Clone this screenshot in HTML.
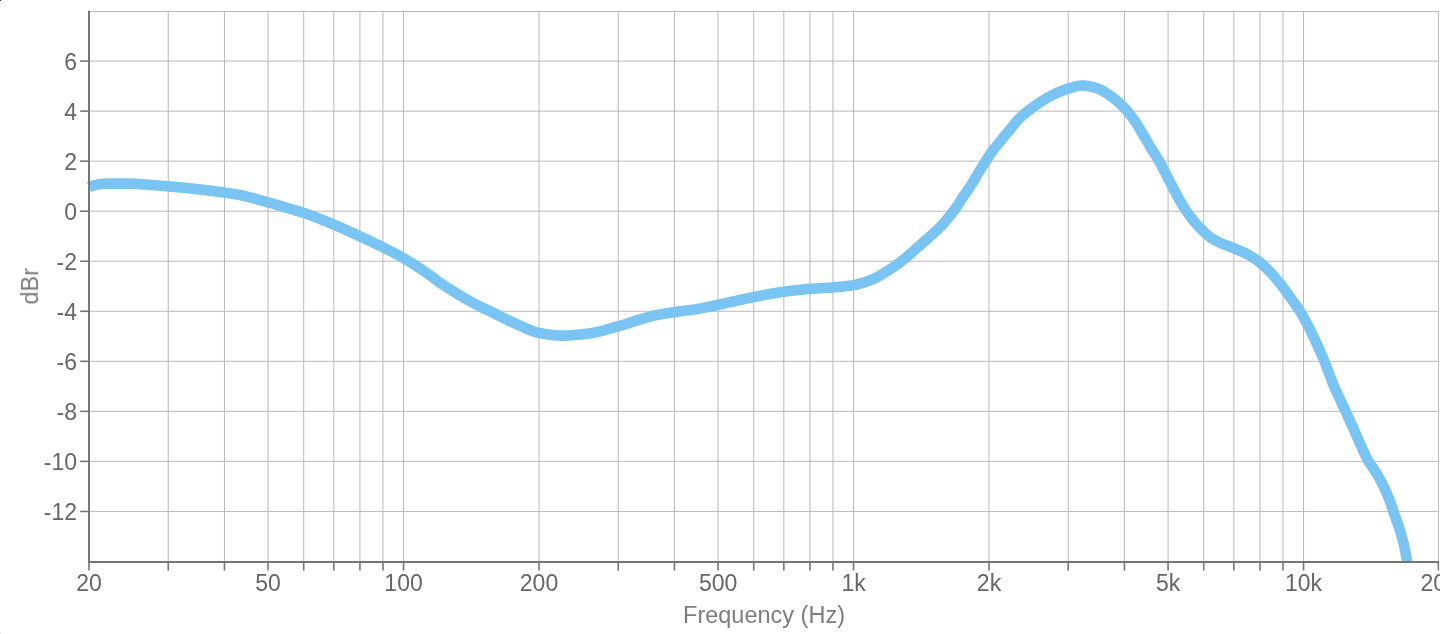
<!DOCTYPE html>
<html><head><meta charset="utf-8"><title>Frequency response</title>
<style>
html,body{margin:0;padding:0;background:#fff;}
body{width:1456px;height:634px;overflow:hidden;font-family:"Liberation Sans",sans-serif;}
svg{display:block;font-family:"Liberation Sans",sans-serif;}
.tl{font-size:23px;fill:#666;}
.ti{font-size:23.5px;fill:#7d7d7d;}
</style></head><body>
<svg width="1456" height="634" viewBox="0 0 1456 634">
<defs><clipPath id="pc"><rect x="80" y="11" width="1359.5" height="551.8"/></clipPath>
<clipPath id="sc"><rect x="0" y="0" width="1439.3" height="634"/></clipPath></defs>
<rect x="0" y="0" width="1456" height="634" fill="#fff"/>
<g clip-path="url(#sc)">
<g stroke="#b9b9b9" stroke-width="1" fill="none">
<line x1="168.24" y1="11.5" x2="168.24" y2="562.0"/>
<line x1="224.46" y1="11.5" x2="224.46" y2="562.0"/>
<line x1="268.07" y1="11.5" x2="268.07" y2="562.0"/>
<line x1="303.70" y1="11.5" x2="303.70" y2="562.0"/>
<line x1="333.83" y1="11.5" x2="333.83" y2="562.0"/>
<line x1="359.93" y1="11.5" x2="359.93" y2="562.0"/>
<line x1="382.95" y1="11.5" x2="382.95" y2="562.0"/>
<line x1="403.54" y1="11.5" x2="403.54" y2="562.0"/>
<line x1="539.00" y1="11.5" x2="539.00" y2="562.0"/>
<line x1="618.24" y1="11.5" x2="618.24" y2="562.0"/>
<line x1="674.46" y1="11.5" x2="674.46" y2="562.0"/>
<line x1="718.07" y1="11.5" x2="718.07" y2="562.0"/>
<line x1="753.70" y1="11.5" x2="753.70" y2="562.0"/>
<line x1="783.83" y1="11.5" x2="783.83" y2="562.0"/>
<line x1="809.93" y1="11.5" x2="809.93" y2="562.0"/>
<line x1="832.95" y1="11.5" x2="832.95" y2="562.0"/>
<line x1="853.54" y1="11.5" x2="853.54" y2="562.0"/>
<line x1="989.00" y1="11.5" x2="989.00" y2="562.0"/>
<line x1="1068.24" y1="11.5" x2="1068.24" y2="562.0"/>
<line x1="1124.46" y1="11.5" x2="1124.46" y2="562.0"/>
<line x1="1168.07" y1="11.5" x2="1168.07" y2="562.0"/>
<line x1="1203.70" y1="11.5" x2="1203.70" y2="562.0"/>
<line x1="1233.83" y1="11.5" x2="1233.83" y2="562.0"/>
<line x1="1259.93" y1="11.5" x2="1259.93" y2="562.0"/>
<line x1="1282.95" y1="11.5" x2="1282.95" y2="562.0"/>
<line x1="1303.54" y1="11.5" x2="1303.54" y2="562.0"/>
<line x1="89.0" y1="511.44" x2="1439" y2="511.44"/>
<line x1="89.0" y1="461.40" x2="1439" y2="461.40"/>
<line x1="89.0" y1="411.36" x2="1439" y2="411.36"/>
<line x1="89.0" y1="361.32" x2="1439" y2="361.32"/>
<line x1="89.0" y1="311.28" x2="1439" y2="311.28"/>
<line x1="89.0" y1="261.24" x2="1439" y2="261.24"/>
<line x1="89.0" y1="211.20" x2="1439" y2="211.20"/>
<line x1="89.0" y1="161.16" x2="1439" y2="161.16"/>
<line x1="89.0" y1="111.12" x2="1439" y2="111.12"/>
<line x1="89.0" y1="61.08" x2="1439" y2="61.08"/>
<line x1="89.0" y1="11.5" x2="1439" y2="11.5"/>
<line x1="1438.6" y1="11.5" x2="1438.6" y2="562.0"/>
</g>
<g clip-path="url(#pc)"><path d="M89.0,187.20 L90.0,186.78 L91.0,186.39 L92.0,186.03 L93.0,185.70 L94.0,185.39 L95.0,185.10 L96.0,184.83 L97.0,184.59 L98.0,184.40 L99.0,184.24 L100.0,184.10 L101.0,183.98 L102.0,183.87 L103.0,183.80 L104.0,183.74 L105.0,183.69 L106.0,183.64 L107.0,183.61 L108.0,183.60 L109.0,183.60 L110.0,183.60 L111.0,183.60 L112.0,183.60 L113.0,183.60 L114.0,183.60 L115.0,183.60 L116.0,183.60 L117.0,183.60 L118.0,183.60 L119.0,183.60 L120.0,183.60 L121.0,183.60 L122.0,183.60 L123.0,183.60 L124.0,183.60 L125.0,183.60 L126.0,183.60 L127.0,183.60 L128.0,183.60 L129.0,183.60 L130.0,183.60 L131.0,183.61 L132.0,183.64 L133.0,183.68 L134.0,183.73 L135.0,183.79 L136.0,183.86 L137.0,183.94 L138.0,184.01 L139.0,184.09 L140.0,184.16 L141.0,184.23 L142.0,184.29 L143.0,184.36 L144.0,184.43 L145.0,184.50 L146.0,184.57 L147.0,184.64 L148.0,184.71 L149.0,184.79 L150.0,184.86 L151.0,184.94 L152.0,185.02 L153.0,185.10 L154.0,185.18 L155.0,185.26 L156.0,185.34 L157.0,185.42 L158.0,185.50 L159.0,185.59 L160.0,185.67 L161.0,185.75 L162.0,185.84 L163.0,185.92 L164.0,186.01 L165.0,186.09 L166.0,186.18 L167.0,186.26 L168.0,186.35 L169.0,186.43 L170.0,186.52 L171.0,186.61 L172.0,186.69 L173.0,186.78 L174.0,186.87 L175.0,186.96 L176.0,187.04 L177.0,187.13 L178.0,187.22 L179.0,187.31 L180.0,187.40 L181.0,187.50 L182.0,187.59 L183.0,187.68 L184.0,187.78 L185.0,187.87 L186.0,187.97 L187.0,188.06 L188.0,188.16 L189.0,188.26 L190.0,188.36 L191.0,188.46 L192.0,188.56 L193.0,188.67 L194.0,188.77 L195.0,188.88 L196.0,188.99 L197.0,189.10 L198.0,189.21 L199.0,189.32 L200.0,189.43 L201.0,189.54 L202.0,189.66 L203.0,189.77 L204.0,189.89 L205.0,190.01 L206.0,190.13 L207.0,190.25 L208.0,190.38 L209.0,190.50 L210.0,190.62 L211.0,190.75 L212.0,190.88 L213.0,191.01 L214.0,191.14 L215.0,191.27 L216.0,191.40 L217.0,191.53 L218.0,191.67 L219.0,191.80 L220.0,191.94 L221.0,192.08 L222.0,192.22 L223.0,192.36 L224.0,192.50 L225.0,192.64 L226.0,192.79 L227.0,192.93 L228.0,193.08 L229.0,193.23 L230.0,193.38 L231.0,193.53 L232.0,193.68 L233.0,193.84 L234.0,194.01 L235.0,194.18 L236.0,194.35 L237.0,194.53 L238.0,194.71 L239.0,194.90 L240.0,195.10 L241.0,195.30 L242.0,195.51 L243.0,195.73 L244.0,195.95 L245.0,196.18 L246.0,196.41 L247.0,196.65 L248.0,196.90 L249.0,197.15 L250.0,197.40 L251.0,197.66 L252.0,197.92 L253.0,198.18 L254.0,198.45 L255.0,198.72 L256.0,198.99 L257.0,199.27 L258.0,199.54 L259.0,199.82 L260.0,200.10 L261.0,200.38 L262.0,200.66 L263.0,200.94 L264.0,201.22 L265.0,201.50 L266.0,201.78 L267.0,202.05 L268.0,202.33 L269.0,202.60 L270.0,202.88 L271.0,203.17 L272.0,203.45 L273.0,203.74 L274.0,204.03 L275.0,204.32 L276.0,204.61 L277.0,204.91 L278.0,205.20 L279.0,205.50 L280.0,205.80 L281.0,206.10 L282.0,206.40 L283.0,206.70 L284.0,207.00 L285.0,207.30 L286.0,207.60 L287.0,207.90 L288.0,208.20 L289.0,208.50 L290.0,208.80 L291.0,209.10 L292.0,209.39 L293.0,209.68 L294.0,209.97 L295.0,210.26 L296.0,210.56 L297.0,210.85 L298.0,211.15 L299.0,211.45 L300.0,211.75 L301.0,212.06 L302.0,212.38 L303.0,212.70 L304.0,213.03 L305.0,213.37 L306.0,213.71 L307.0,214.06 L308.0,214.41 L309.0,214.77 L310.0,215.13 L311.0,215.49 L312.0,215.86 L313.0,216.23 L314.0,216.61 L315.0,216.98 L316.0,217.37 L317.0,217.75 L318.0,218.14 L319.0,218.53 L320.0,218.92 L321.0,219.32 L322.0,219.72 L323.0,220.12 L324.0,220.52 L325.0,220.93 L326.0,221.33 L327.0,221.74 L328.0,222.15 L329.0,222.57 L330.0,222.98 L331.0,223.39 L332.0,223.81 L333.0,224.22 L334.0,224.64 L335.0,225.06 L336.0,225.49 L337.0,225.91 L338.0,226.35 L339.0,226.78 L340.0,227.22 L341.0,227.66 L342.0,228.11 L343.0,228.56 L344.0,229.01 L345.0,229.46 L346.0,229.91 L347.0,230.37 L348.0,230.83 L349.0,231.29 L350.0,231.75 L351.0,232.21 L352.0,232.68 L353.0,233.14 L354.0,233.61 L355.0,234.07 L356.0,234.54 L357.0,235.01 L358.0,235.47 L359.0,235.94 L360.0,236.40 L361.0,236.86 L362.0,237.33 L363.0,237.79 L364.0,238.26 L365.0,238.72 L366.0,239.19 L367.0,239.65 L368.0,240.12 L369.0,240.59 L370.0,241.06 L371.0,241.53 L372.0,242.00 L373.0,242.48 L374.0,242.96 L375.0,243.43 L376.0,243.91 L377.0,244.40 L378.0,244.88 L379.0,245.37 L380.0,245.86 L381.0,246.35 L382.0,246.85 L383.0,247.35 L384.0,247.85 L385.0,248.35 L386.0,248.85 L387.0,249.36 L388.0,249.86 L389.0,250.37 L390.0,250.88 L391.0,251.39 L392.0,251.90 L393.0,252.42 L394.0,252.94 L395.0,253.47 L396.0,254.00 L397.0,254.53 L398.0,255.07 L399.0,255.62 L400.0,256.17 L401.0,256.72 L402.0,257.29 L403.0,257.86 L404.0,258.43 L405.0,259.02 L406.0,259.61 L407.0,260.20 L408.0,260.81 L409.0,261.42 L410.0,262.04 L411.0,262.66 L412.0,263.29 L413.0,263.93 L414.0,264.56 L415.0,265.21 L416.0,265.86 L417.0,266.51 L418.0,267.17 L419.0,267.83 L420.0,268.49 L421.0,269.16 L422.0,269.83 L423.0,270.50 L424.0,271.17 L425.0,271.85 L426.0,272.53 L427.0,273.21 L428.0,273.91 L429.0,274.61 L430.0,275.33 L431.0,276.06 L432.0,276.79 L433.0,277.53 L434.0,278.27 L435.0,279.01 L436.0,279.75 L437.0,280.49 L438.0,281.21 L439.0,281.94 L440.0,282.65 L441.0,283.35 L442.0,284.03 L443.0,284.70 L444.0,285.36 L445.0,286.02 L446.0,286.68 L447.0,287.33 L448.0,287.98 L449.0,288.62 L450.0,289.26 L451.0,289.90 L452.0,290.53 L453.0,291.16 L454.0,291.79 L455.0,292.41 L456.0,293.03 L457.0,293.64 L458.0,294.25 L459.0,294.86 L460.0,295.46 L461.0,296.05 L462.0,296.64 L463.0,297.23 L464.0,297.81 L465.0,298.39 L466.0,298.96 L467.0,299.53 L468.0,300.09 L469.0,300.65 L470.0,301.20 L471.0,301.75 L472.0,302.29 L473.0,302.82 L474.0,303.35 L475.0,303.87 L476.0,304.39 L477.0,304.90 L478.0,305.41 L479.0,305.91 L480.0,306.41 L481.0,306.91 L482.0,307.40 L483.0,307.89 L484.0,308.38 L485.0,308.87 L486.0,309.35 L487.0,309.84 L488.0,310.32 L489.0,310.80 L490.0,311.29 L491.0,311.77 L492.0,312.25 L493.0,312.74 L494.0,313.22 L495.0,313.71 L496.0,314.20 L497.0,314.69 L498.0,315.18 L499.0,315.68 L500.0,316.18 L501.0,316.68 L502.0,317.18 L503.0,317.67 L504.0,318.17 L505.0,318.67 L506.0,319.17 L507.0,319.66 L508.0,320.15 L509.0,320.64 L510.0,321.12 L511.0,321.60 L512.0,322.07 L513.0,322.54 L514.0,323.00 L515.0,323.46 L516.0,323.91 L517.0,324.35 L518.0,324.79 L519.0,325.21 L520.0,325.65 L521.0,326.09 L522.0,326.54 L523.0,327.00 L524.0,327.45 L525.0,327.91 L526.0,328.36 L527.0,328.80 L528.0,329.24 L529.0,329.67 L530.0,330.09 L531.0,330.49 L532.0,330.88 L533.0,331.24 L534.0,331.59 L535.0,331.91 L536.0,332.21 L537.0,332.48 L538.0,332.72 L539.0,332.93 L540.0,333.11 L541.0,333.28 L542.0,333.45 L543.0,333.62 L544.0,333.79 L545.0,333.95 L546.0,334.11 L547.0,334.26 L548.0,334.41 L549.0,334.55 L550.0,334.69 L551.0,334.82 L552.0,334.94 L553.0,335.05 L554.0,335.16 L555.0,335.25 L556.0,335.33 L557.0,335.41 L558.0,335.47 L559.0,335.52 L560.0,335.56 L561.0,335.59 L562.0,335.60 L563.0,335.60 L564.0,335.59 L565.0,335.57 L566.0,335.54 L567.0,335.51 L568.0,335.47 L569.0,335.42 L570.0,335.36 L571.0,335.30 L572.0,335.23 L573.0,335.16 L574.0,335.08 L575.0,335.00 L576.0,334.91 L577.0,334.82 L578.0,334.72 L579.0,334.62 L580.0,334.52 L581.0,334.42 L582.0,334.31 L583.0,334.21 L584.0,334.10 L585.0,333.99 L586.0,333.88 L587.0,333.77 L588.0,333.64 L589.0,333.51 L590.0,333.36 L591.0,333.20 L592.0,333.03 L593.0,332.85 L594.0,332.66 L595.0,332.45 L596.0,332.24 L597.0,332.02 L598.0,331.79 L599.0,331.55 L600.0,331.31 L601.0,331.06 L602.0,330.80 L603.0,330.54 L604.0,330.27 L605.0,330.00 L606.0,329.73 L607.0,329.45 L608.0,329.17 L609.0,328.88 L610.0,328.60 L611.0,328.31 L612.0,328.03 L613.0,327.74 L614.0,327.46 L615.0,327.17 L616.0,326.89 L617.0,326.61 L618.0,326.34 L619.0,326.06 L620.0,325.78 L621.0,325.49 L622.0,325.20 L623.0,324.89 L624.0,324.59 L625.0,324.28 L626.0,323.96 L627.0,323.64 L628.0,323.32 L629.0,322.99 L630.0,322.67 L631.0,322.34 L632.0,322.02 L633.0,321.69 L634.0,321.37 L635.0,321.05 L636.0,320.73 L637.0,320.41 L638.0,320.10 L639.0,319.80 L640.0,319.50 L641.0,319.20 L642.0,318.90 L643.0,318.59 L644.0,318.29 L645.0,317.98 L646.0,317.68 L647.0,317.39 L648.0,317.10 L649.0,316.82 L650.0,316.55 L651.0,316.30 L652.0,316.06 L653.0,315.83 L654.0,315.62 L655.0,315.41 L656.0,315.21 L657.0,315.01 L658.0,314.82 L659.0,314.64 L660.0,314.45 L661.0,314.28 L662.0,314.10 L663.0,313.93 L664.0,313.77 L665.0,313.60 L666.0,313.44 L667.0,313.28 L668.0,313.13 L669.0,312.97 L670.0,312.82 L671.0,312.66 L672.0,312.51 L673.0,312.36 L674.0,312.21 L675.0,312.05 L676.0,311.91 L677.0,311.76 L678.0,311.62 L679.0,311.49 L680.0,311.35 L681.0,311.22 L682.0,311.09 L683.0,310.97 L684.0,310.84 L685.0,310.72 L686.0,310.59 L687.0,310.46 L688.0,310.34 L689.0,310.21 L690.0,310.07 L691.0,309.94 L692.0,309.80 L693.0,309.66 L694.0,309.52 L695.0,309.37 L696.0,309.21 L697.0,309.05 L698.0,308.88 L699.0,308.71 L700.0,308.53 L701.0,308.35 L702.0,308.16 L703.0,307.97 L704.0,307.77 L705.0,307.57 L706.0,307.37 L707.0,307.17 L708.0,306.96 L709.0,306.75 L710.0,306.54 L711.0,306.33 L712.0,306.11 L713.0,305.90 L714.0,305.69 L715.0,305.47 L716.0,305.26 L717.0,305.05 L718.0,304.84 L719.0,304.63 L720.0,304.42 L721.0,304.21 L722.0,303.99 L723.0,303.78 L724.0,303.56 L725.0,303.34 L726.0,303.11 L727.0,302.89 L728.0,302.67 L729.0,302.44 L730.0,302.22 L731.0,301.99 L732.0,301.76 L733.0,301.54 L734.0,301.31 L735.0,301.08 L736.0,300.85 L737.0,300.63 L738.0,300.40 L739.0,300.18 L740.0,299.95 L741.0,299.73 L742.0,299.50 L743.0,299.28 L744.0,299.06 L745.0,298.84 L746.0,298.63 L747.0,298.41 L748.0,298.20 L749.0,297.99 L750.0,297.78 L751.0,297.58 L752.0,297.38 L753.0,297.18 L754.0,296.98 L755.0,296.79 L756.0,296.59 L757.0,296.39 L758.0,296.20 L759.0,296.00 L760.0,295.81 L761.0,295.61 L762.0,295.42 L763.0,295.22 L764.0,295.03 L765.0,294.84 L766.0,294.65 L767.0,294.46 L768.0,294.27 L769.0,294.09 L770.0,293.91 L771.0,293.73 L772.0,293.55 L773.0,293.37 L774.0,293.20 L775.0,293.03 L776.0,292.87 L777.0,292.70 L778.0,292.54 L779.0,292.39 L780.0,292.24 L781.0,292.09 L782.0,291.95 L783.0,291.81 L784.0,291.67 L785.0,291.54 L786.0,291.41 L787.0,291.29 L788.0,291.16 L789.0,291.04 L790.0,290.91 L791.0,290.80 L792.0,290.68 L793.0,290.56 L794.0,290.45 L795.0,290.34 L796.0,290.23 L797.0,290.12 L798.0,290.01 L799.0,289.91 L800.0,289.81 L801.0,289.71 L802.0,289.61 L803.0,289.51 L804.0,289.42 L805.0,289.33 L806.0,289.24 L807.0,289.15 L808.0,289.07 L809.0,288.98 L810.0,288.90 L811.0,288.82 L812.0,288.75 L813.0,288.68 L814.0,288.61 L815.0,288.54 L816.0,288.48 L817.0,288.42 L818.0,288.36 L819.0,288.30 L820.0,288.24 L821.0,288.18 L822.0,288.12 L823.0,288.07 L824.0,288.01 L825.0,287.95 L826.0,287.89 L827.0,287.83 L828.0,287.76 L829.0,287.70 L830.0,287.63 L831.0,287.56 L832.0,287.48 L833.0,287.40 L834.0,287.32 L835.0,287.24 L836.0,287.15 L837.0,287.07 L838.0,286.98 L839.0,286.90 L840.0,286.81 L841.0,286.72 L842.0,286.62 L843.0,286.52 L844.0,286.42 L845.0,286.31 L846.0,286.20 L847.0,286.09 L848.0,285.96 L849.0,285.84 L850.0,285.70 L851.0,285.56 L852.0,285.42 L853.0,285.26 L854.0,285.10 L855.0,284.92 L856.0,284.71 L857.0,284.49 L858.0,284.25 L859.0,283.99 L860.0,283.71 L861.0,283.42 L862.0,283.12 L863.0,282.80 L864.0,282.47 L865.0,282.13 L866.0,281.78 L867.0,281.42 L868.0,281.05 L869.0,280.67 L870.0,280.29 L871.0,279.90 L872.0,279.50 L873.0,279.08 L874.0,278.62 L875.0,278.15 L876.0,277.65 L877.0,277.12 L878.0,276.58 L879.0,276.02 L880.0,275.45 L881.0,274.86 L882.0,274.27 L883.0,273.66 L884.0,273.05 L885.0,272.43 L886.0,271.81 L887.0,271.19 L888.0,270.56 L889.0,269.93 L890.0,269.28 L891.0,268.61 L892.0,267.94 L893.0,267.25 L894.0,266.56 L895.0,265.85 L896.0,265.13 L897.0,264.40 L898.0,263.67 L899.0,262.92 L900.0,262.17 L901.0,261.41 L902.0,260.65 L903.0,259.88 L904.0,259.10 L905.0,258.30 L906.0,257.48 L907.0,256.66 L908.0,255.82 L909.0,254.97 L910.0,254.11 L911.0,253.24 L912.0,252.37 L913.0,251.49 L914.0,250.61 L915.0,249.73 L916.0,248.85 L917.0,247.97 L918.0,247.09 L919.0,246.21 L920.0,245.34 L921.0,244.47 L922.0,243.60 L923.0,242.72 L924.0,241.85 L925.0,240.97 L926.0,240.09 L927.0,239.20 L928.0,238.32 L929.0,237.42 L930.0,236.52 L931.0,235.62 L932.0,234.71 L933.0,233.79 L934.0,232.86 L935.0,231.93 L936.0,230.99 L937.0,230.06 L938.0,229.13 L939.0,228.18 L940.0,227.21 L941.0,226.22 L942.0,225.19 L943.0,224.14 L944.0,223.03 L945.0,221.87 L946.0,220.65 L947.0,219.40 L948.0,218.12 L949.0,216.82 L950.0,215.52 L951.0,214.22 L952.0,212.93 L953.0,211.68 L954.0,210.44 L955.0,209.17 L956.0,207.80 L957.0,206.33 L958.0,204.79 L959.0,203.21 L960.0,201.61 L961.0,200.03 L962.0,198.50 L963.0,197.02 L964.0,195.57 L965.0,194.13 L966.0,192.70 L967.0,191.27 L968.0,189.82 L969.0,188.33 L970.0,186.81 L971.0,185.23 L972.0,183.60 L973.0,181.94 L974.0,180.24 L975.0,178.54 L976.0,176.84 L977.0,175.15 L978.0,173.50 L979.0,171.87 L980.0,170.25 L981.0,168.63 L982.0,167.03 L983.0,165.43 L984.0,163.84 L985.0,162.26 L986.0,160.69 L987.0,159.10 L988.0,157.52 L989.0,155.97 L990.0,154.50 L991.0,153.09 L992.0,151.72 L993.0,150.38 L994.0,149.06 L995.0,147.77 L996.0,146.50 L997.0,145.24 L998.0,143.99 L999.0,142.74 L1000.0,141.50 L1001.0,140.26 L1002.0,139.04 L1003.0,137.83 L1004.0,136.63 L1005.0,135.44 L1006.0,134.25 L1007.0,133.07 L1008.0,131.89 L1009.0,130.71 L1010.0,129.52 L1011.0,128.31 L1012.0,127.08 L1013.0,125.85 L1014.0,124.61 L1015.0,123.38 L1016.0,122.18 L1017.0,121.00 L1018.0,119.88 L1019.0,118.80 L1020.0,117.79 L1021.0,116.84 L1022.0,115.92 L1023.0,115.03 L1024.0,114.17 L1025.0,113.33 L1026.0,112.52 L1027.0,111.72 L1028.0,110.94 L1029.0,110.18 L1030.0,109.43 L1031.0,108.70 L1032.0,107.98 L1033.0,107.26 L1034.0,106.55 L1035.0,105.85 L1036.0,105.15 L1037.0,104.45 L1038.0,103.76 L1039.0,103.07 L1040.0,102.39 L1041.0,101.72 L1042.0,101.06 L1043.0,100.41 L1044.0,99.78 L1045.0,99.16 L1046.0,98.55 L1047.0,97.96 L1048.0,97.39 L1049.0,96.84 L1050.0,96.31 L1051.0,95.80 L1052.0,95.30 L1053.0,94.80 L1054.0,94.32 L1055.0,93.83 L1056.0,93.36 L1057.0,92.90 L1058.0,92.45 L1059.0,92.01 L1060.0,91.58 L1061.0,91.16 L1062.0,90.76 L1063.0,90.37 L1064.0,90.00 L1065.0,89.65 L1066.0,89.31 L1067.0,88.99 L1068.0,88.69 L1069.0,88.40 L1070.0,88.10 L1071.0,87.80 L1072.0,87.50 L1073.0,87.20 L1074.0,86.91 L1075.0,86.64 L1076.0,86.38 L1077.0,86.15 L1078.0,85.95 L1079.0,85.78 L1080.0,85.64 L1081.0,85.55 L1082.0,85.50 L1083.0,85.51 L1084.0,85.55 L1085.0,85.63 L1086.0,85.74 L1087.0,85.88 L1088.0,86.04 L1089.0,86.23 L1090.0,86.44 L1091.0,86.67 L1092.0,86.91 L1093.0,87.17 L1094.0,87.43 L1095.0,87.70 L1096.0,87.97 L1097.0,88.27 L1098.0,88.62 L1099.0,89.02 L1100.0,89.46 L1101.0,89.95 L1102.0,90.48 L1103.0,91.04 L1104.0,91.63 L1105.0,92.25 L1106.0,92.89 L1107.0,93.54 L1108.0,94.21 L1109.0,94.89 L1110.0,95.58 L1111.0,96.26 L1112.0,96.96 L1113.0,97.69 L1114.0,98.45 L1115.0,99.24 L1116.0,100.06 L1117.0,100.91 L1118.0,101.79 L1119.0,102.70 L1120.0,103.63 L1121.0,104.58 L1122.0,105.56 L1123.0,106.56 L1124.0,107.59 L1125.0,108.63 L1126.0,109.73 L1127.0,110.87 L1128.0,112.06 L1129.0,113.28 L1130.0,114.55 L1131.0,115.85 L1132.0,117.18 L1133.0,118.55 L1134.0,119.94 L1135.0,121.36 L1136.0,122.85 L1137.0,124.40 L1138.0,126.01 L1139.0,127.64 L1140.0,129.31 L1141.0,130.99 L1142.0,132.67 L1143.0,134.33 L1144.0,136.00 L1145.0,137.70 L1146.0,139.42 L1147.0,141.15 L1148.0,142.88 L1149.0,144.60 L1150.0,146.31 L1151.0,148.00 L1152.0,149.65 L1153.0,151.27 L1154.0,152.86 L1155.0,154.44 L1156.0,156.03 L1157.0,157.63 L1158.0,159.28 L1159.0,160.98 L1160.0,162.74 L1161.0,164.56 L1162.0,166.43 L1163.0,168.34 L1164.0,170.27 L1165.0,172.23 L1166.0,174.19 L1167.0,176.15 L1168.0,178.11 L1169.0,180.04 L1170.0,181.96 L1171.0,183.89 L1172.0,185.84 L1173.0,187.80 L1174.0,189.75 L1175.0,191.70 L1176.0,193.61 L1177.0,195.50 L1178.0,197.34 L1179.0,199.13 L1180.0,200.86 L1181.0,202.55 L1182.0,204.20 L1183.0,205.81 L1184.0,207.38 L1185.0,208.92 L1186.0,210.41 L1187.0,211.87 L1188.0,213.31 L1189.0,214.72 L1190.0,216.11 L1191.0,217.46 L1192.0,218.78 L1193.0,220.06 L1194.0,221.30 L1195.0,222.50 L1196.0,223.66 L1197.0,224.78 L1198.0,225.87 L1199.0,226.93 L1200.0,227.96 L1201.0,228.97 L1202.0,229.95 L1203.0,230.92 L1204.0,231.87 L1205.0,232.82 L1206.0,233.76 L1207.0,234.67 L1208.0,235.55 L1209.0,236.38 L1210.0,237.14 L1211.0,237.84 L1212.0,238.50 L1213.0,239.12 L1214.0,239.70 L1215.0,240.26 L1216.0,240.79 L1217.0,241.31 L1218.0,241.80 L1219.0,242.28 L1220.0,242.73 L1221.0,243.17 L1222.0,243.59 L1223.0,244.00 L1224.0,244.40 L1225.0,244.79 L1226.0,245.18 L1227.0,245.56 L1228.0,245.94 L1229.0,246.32 L1230.0,246.71 L1231.0,247.10 L1232.0,247.50 L1233.0,247.91 L1234.0,248.33 L1235.0,248.75 L1236.0,249.16 L1237.0,249.58 L1238.0,249.99 L1239.0,250.41 L1240.0,250.83 L1241.0,251.26 L1242.0,251.70 L1243.0,252.15 L1244.0,252.61 L1245.0,253.09 L1246.0,253.59 L1247.0,254.10 L1248.0,254.64 L1249.0,255.19 L1250.0,255.75 L1251.0,256.34 L1252.0,256.94 L1253.0,257.56 L1254.0,258.20 L1255.0,258.86 L1256.0,259.54 L1257.0,260.23 L1258.0,260.96 L1259.0,261.70 L1260.0,262.46 L1261.0,263.27 L1262.0,264.11 L1263.0,264.99 L1264.0,265.90 L1265.0,266.84 L1266.0,267.80 L1267.0,268.79 L1268.0,269.80 L1269.0,270.83 L1270.0,271.88 L1271.0,272.93 L1272.0,274.00 L1273.0,275.09 L1274.0,276.22 L1275.0,277.37 L1276.0,278.56 L1277.0,279.77 L1278.0,281.01 L1279.0,282.26 L1280.0,283.53 L1281.0,284.81 L1282.0,286.10 L1283.0,287.39 L1284.0,288.70 L1285.0,290.04 L1286.0,291.40 L1287.0,292.77 L1288.0,294.16 L1289.0,295.56 L1290.0,296.97 L1291.0,298.38 L1292.0,299.79 L1293.0,301.20 L1294.0,302.60 L1295.0,303.98 L1296.0,305.38 L1297.0,306.80 L1298.0,308.25 L1299.0,309.75 L1300.0,311.32 L1301.0,312.95 L1302.0,314.64 L1303.0,316.39 L1304.0,318.18 L1305.0,320.02 L1306.0,321.89 L1307.0,323.81 L1308.0,325.75 L1309.0,327.73 L1310.0,329.73 L1311.0,331.75 L1312.0,333.80 L1313.0,335.85 L1314.0,337.92 L1315.0,340.02 L1316.0,342.16 L1317.0,344.33 L1318.0,346.54 L1319.0,348.77 L1320.0,351.05 L1321.0,353.35 L1322.0,355.68 L1323.0,358.05 L1324.0,360.44 L1325.0,362.87 L1326.0,365.41 L1327.0,368.02 L1328.0,370.69 L1329.0,373.38 L1330.0,376.07 L1331.0,378.72 L1332.0,381.30 L1333.0,383.80 L1334.0,386.18 L1335.0,388.49 L1336.0,390.74 L1337.0,392.94 L1338.0,395.11 L1339.0,397.24 L1340.0,399.36 L1341.0,401.47 L1342.0,403.57 L1343.0,405.68 L1344.0,407.81 L1345.0,409.97 L1346.0,412.16 L1347.0,414.37 L1348.0,416.58 L1349.0,418.79 L1350.0,421.02 L1351.0,423.24 L1352.0,425.47 L1353.0,427.71 L1354.0,429.95 L1355.0,432.19 L1356.0,434.43 L1357.0,436.68 L1358.0,438.95 L1359.0,441.26 L1360.0,443.56 L1361.0,445.83 L1362.0,448.06 L1363.0,450.21 L1364.0,452.34 L1365.0,454.45 L1366.0,456.51 L1367.0,458.49 L1368.0,460.36 L1369.0,462.06 L1370.0,463.60 L1371.0,465.03 L1372.0,466.44 L1373.0,467.90 L1374.0,469.43 L1375.0,470.97 L1376.0,472.55 L1377.0,474.18 L1378.0,475.89 L1379.0,477.65 L1380.0,479.46 L1381.0,481.33 L1382.0,483.25 L1383.0,485.23 L1384.0,487.27 L1385.0,489.39 L1386.0,491.57 L1387.0,493.84 L1388.0,496.21 L1389.0,498.69 L1390.0,501.31 L1391.0,504.19 L1392.0,507.24 L1393.0,510.31 L1394.0,513.25 L1395.0,516.06 L1396.0,518.82 L1397.0,521.59 L1398.0,524.45 L1399.0,527.45 L1400.0,530.66 L1401.0,534.00 L1402.0,537.49 L1403.0,541.23 L1404.0,545.32 L1405.0,549.87 L1406.0,555.49 L1407.0,561.50 L1408.0,567.33 L1409.0,573.22" fill="none" stroke="#7ac4f4" stroke-width="10.6" stroke-linejoin="round" stroke-linecap="butt"/></g>
<g stroke="#757575" fill="none">
<line x1="89.0" y1="10.8" x2="89.0" y2="562.9" stroke-width="2"/>
<line x1="88.0" y1="562.0" x2="1439.3" y2="562.0" stroke-width="1.8"/>
<line x1="80.2" y1="511.44" x2="89.0" y2="511.44" stroke-width="1.6"/>
<line x1="80.2" y1="461.40" x2="89.0" y2="461.40" stroke-width="1.6"/>
<line x1="80.2" y1="411.36" x2="89.0" y2="411.36" stroke-width="1.6"/>
<line x1="80.2" y1="361.32" x2="89.0" y2="361.32" stroke-width="1.6"/>
<line x1="80.2" y1="311.28" x2="89.0" y2="311.28" stroke-width="1.6"/>
<line x1="80.2" y1="261.24" x2="89.0" y2="261.24" stroke-width="1.6"/>
<line x1="80.2" y1="211.20" x2="89.0" y2="211.20" stroke-width="1.6"/>
<line x1="80.2" y1="161.16" x2="89.0" y2="161.16" stroke-width="1.6"/>
<line x1="80.2" y1="111.12" x2="89.0" y2="111.12" stroke-width="1.6"/>
<line x1="80.2" y1="61.08" x2="89.0" y2="61.08" stroke-width="1.6"/>
<line x1="89.00" y1="562.0" x2="89.00" y2="570.6" stroke-width="1.6"/>
<line x1="168.24" y1="562.0" x2="168.24" y2="570.6" stroke-width="1.6"/>
<line x1="224.46" y1="562.0" x2="224.46" y2="570.6" stroke-width="1.6"/>
<line x1="268.07" y1="562.0" x2="268.07" y2="570.6" stroke-width="1.6"/>
<line x1="303.70" y1="562.0" x2="303.70" y2="570.6" stroke-width="1.6"/>
<line x1="333.83" y1="562.0" x2="333.83" y2="570.6" stroke-width="1.6"/>
<line x1="359.93" y1="562.0" x2="359.93" y2="570.6" stroke-width="1.6"/>
<line x1="382.95" y1="562.0" x2="382.95" y2="570.6" stroke-width="1.6"/>
<line x1="403.54" y1="562.0" x2="403.54" y2="570.6" stroke-width="1.6"/>
<line x1="539.00" y1="562.0" x2="539.00" y2="570.6" stroke-width="1.6"/>
<line x1="618.24" y1="562.0" x2="618.24" y2="570.6" stroke-width="1.6"/>
<line x1="674.46" y1="562.0" x2="674.46" y2="570.6" stroke-width="1.6"/>
<line x1="718.07" y1="562.0" x2="718.07" y2="570.6" stroke-width="1.6"/>
<line x1="753.70" y1="562.0" x2="753.70" y2="570.6" stroke-width="1.6"/>
<line x1="783.83" y1="562.0" x2="783.83" y2="570.6" stroke-width="1.6"/>
<line x1="809.93" y1="562.0" x2="809.93" y2="570.6" stroke-width="1.6"/>
<line x1="832.95" y1="562.0" x2="832.95" y2="570.6" stroke-width="1.6"/>
<line x1="853.54" y1="562.0" x2="853.54" y2="570.6" stroke-width="1.6"/>
<line x1="989.00" y1="562.0" x2="989.00" y2="570.6" stroke-width="1.6"/>
<line x1="1068.24" y1="562.0" x2="1068.24" y2="570.6" stroke-width="1.6"/>
<line x1="1124.46" y1="562.0" x2="1124.46" y2="570.6" stroke-width="1.6"/>
<line x1="1168.07" y1="562.0" x2="1168.07" y2="570.6" stroke-width="1.6"/>
<line x1="1203.70" y1="562.0" x2="1203.70" y2="570.6" stroke-width="1.6"/>
<line x1="1233.83" y1="562.0" x2="1233.83" y2="570.6" stroke-width="1.6"/>
<line x1="1259.93" y1="562.0" x2="1259.93" y2="570.6" stroke-width="1.6"/>
<line x1="1282.95" y1="562.0" x2="1282.95" y2="570.6" stroke-width="1.6"/>
<line x1="1303.54" y1="562.0" x2="1303.54" y2="570.6" stroke-width="1.6"/>
<line x1="1438.40" y1="562.0" x2="1438.40" y2="570.6" stroke-width="1.6"/>
</g>
<g style="opacity:0.999">
<text class="tl" x="77" y="520.44" text-anchor="end">-12</text>
<text class="tl" x="77" y="470.40" text-anchor="end">-10</text>
<text class="tl" x="77" y="420.36" text-anchor="end">-8</text>
<text class="tl" x="77" y="370.32" text-anchor="end">-6</text>
<text class="tl" x="77" y="320.28" text-anchor="end">-4</text>
<text class="tl" x="77" y="270.24" text-anchor="end">-2</text>
<text class="tl" x="77" y="220.20" text-anchor="end">0</text>
<text class="tl" x="77" y="170.16" text-anchor="end">2</text>
<text class="tl" x="77" y="120.12" text-anchor="end">4</text>
<text class="tl" x="77" y="70.08" text-anchor="end">6</text>
<text class="tl" x="89.00" y="590.8" text-anchor="middle">20</text>
<text class="tl" x="268.07" y="590.8" text-anchor="middle">50</text>
<text class="tl" x="403.54" y="590.8" text-anchor="middle">100</text>
<text class="tl" x="539.00" y="590.8" text-anchor="middle">200</text>
<text class="tl" x="718.07" y="590.8" text-anchor="middle">500</text>
<text class="tl" x="853.54" y="590.8" text-anchor="middle">1k</text>
<text class="tl" x="989.00" y="590.8" text-anchor="middle">2k</text>
<text class="tl" x="1168.07" y="590.8" text-anchor="middle">5k</text>
<text class="tl" x="1303.54" y="590.8" text-anchor="middle">10k</text>
<text class="tl" x="1439.00" y="590.8" text-anchor="middle">20k</text>
<text class="ti" x="764" y="622.6" text-anchor="middle">Frequency (Hz)</text>
<text class="ti" transform="translate(38,286.3) rotate(-90)" text-anchor="middle">dBr</text>
</g>
</g>
<rect x="0" y="0" width="1" height="1" fill="#222"/>
<rect x="0" y="633" width="1" height="1" fill="#ddd"/>
</svg></body></html>
